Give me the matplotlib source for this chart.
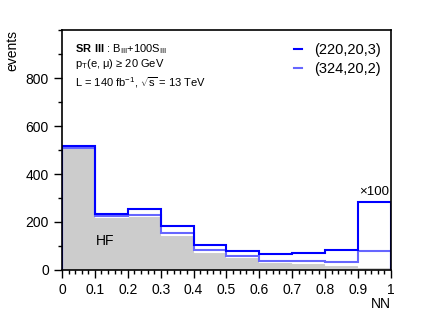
import numpy as np
import matplotlib
matplotlib.use("Agg")
import matplotlib.pyplot as plt
from matplotlib.ticker import MultipleLocator

plt.rcParams["font.family"] = ["Liberation Sans", "DejaVu Sans"]
plt.rcParams["mathtext.fontset"] = "custom"
plt.rcParams["mathtext.rm"] = "Liberation Sans"
plt.rcParams["mathtext.bf"] = "Liberation Sans:bold"

edges = np.linspace(0, 1, 11)
hf = [507, 222, 224, 146, 76, 56, 33, 28, 19, 14]
sig_220 = [515, 235, 254, 185, 104, 79, 65, 71, 82, 285]
sig_324 = [510, 226, 229, 153, 83, 60, 37, 37, 35, 78]

fig = plt.figure(figsize=(4.32, 3.16), dpi=100)
ax = fig.add_axes([0.1435, 0.1456, 0.7615, 0.7594])

ax.stairs(hf, edges, fill=True, color="#cccccc")
ax.stairs(hf, edges, color="white", lw=0.8)
ax.stairs(sig_324, edges, color="#6666ff", lw=1.5, label="(324,20,2)")
ax.stairs(sig_220, edges, color="#0000ff", lw=1.5, label="(220,20,3)")

ax.set_xlim(0, 1)
ax.set_ylim(0, 1000)
ax.xaxis.set_minor_locator(MultipleLocator(0.02))
ax.yaxis.set_minor_locator(MultipleLocator(100))
ax.set_xticks(np.arange(0, 1.01, 0.1))
ax.set_xticklabels(["0", "0.1", "0.2", "0.3", "0.4", "0.5", "0.6", "0.7", "0.8", "0.9", "1"])
ax.set_yticks([0, 200, 400, 600, 800])
ax.tick_params(which="major", length=6, width=1, labelsize=10, direction="out")
ax.tick_params(which="minor", length=3, width=1, direction="out")
for s in ax.spines.values():
    s.set_linewidth(1.2)

ax.set_ylabel("events", fontsize=10, loc="top")
ax.set_xlabel("NN", fontsize=10, loc="right", labelpad=0)

h, l = ax.get_legend_handles_labels()
ax.legend(h[::-1], l[::-1], loc="upper right", frameon=False, fontsize=10.5,
          handlelength=0.6, handletextpad=0.8, labelspacing=0.35,
          borderaxespad=0.3, bbox_to_anchor=(1.0, 0.99))

ax.text(0.04, 0.95, r"$\mathbf{SR\ III}$ : B$_{\rm III}$+100S$_{\rm III}$",
        transform=ax.transAxes, fontsize=8, va="top")
ax.text(0.04, 0.888, "p$_{\\rm T}$(e, μ) ≥ 20 GeV",
        transform=ax.transAxes, fontsize=8, va="top")
ax.text(0.04, 0.812, r"L = 140 fb$^{-1}$, $\sqrt{\rm s}$ = 13 TeV",
        transform=ax.transAxes, fontsize=8, va="top")
ax.text(0.95, 300, "×100", fontsize=9.5, ha="center", va="bottom")
ax.text(0.13, 120, "HF", fontsize=10, ha="center", va="center")

fig.savefig("out.png", dpi=100)
